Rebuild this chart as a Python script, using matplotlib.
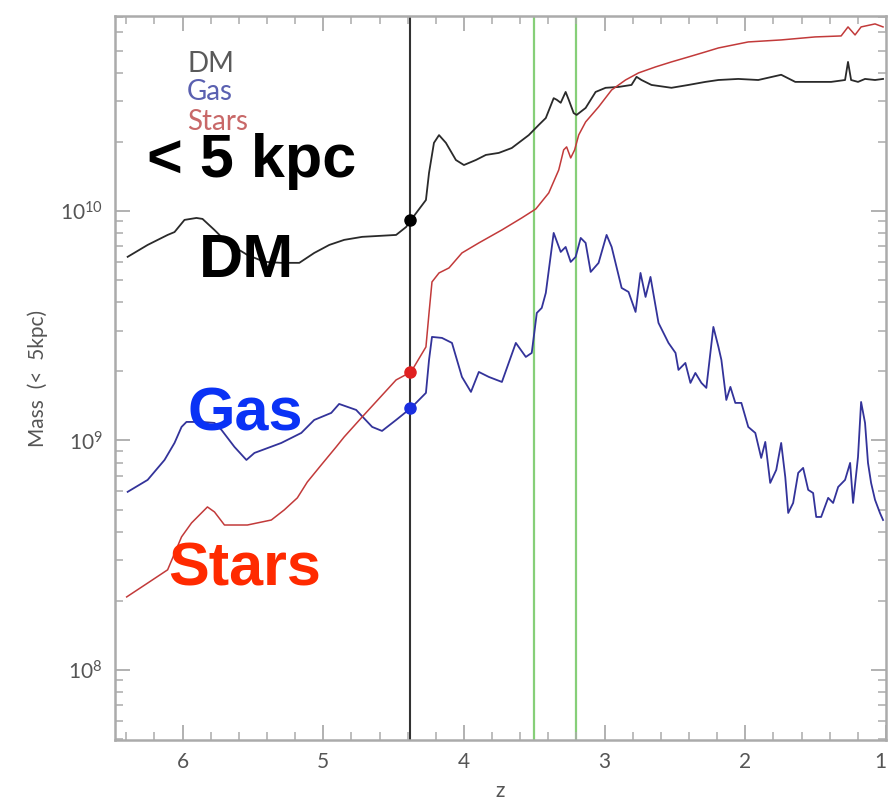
import numpy as np
import matplotlib
matplotlib.use('Agg')
import matplotlib.pyplot as plt
from matplotlib.ticker import LogLocator, MultipleLocator, FixedLocator, NullFormatter, FixedFormatter

plt.rcParams['font.family'] = ['Lato', 'DejaVu Sans']
plt.rcParams['mathtext.fontset'] = 'custom'
plt.rcParams['mathtext.rm'] = 'Lato'
plt.rcParams['mathtext.it'] = 'Lato'
plt.rcParams['mathtext.bf'] = 'Lato:bold'

# ---------------- data (mass in units of 1e9 Msun) ----------------
dm_z = [6.390, 6.248, 6.106, 6.057, 5.986, 5.901, 5.858, 5.773, 5.681, 5.539,
        5.418, 5.298, 5.170, 5.064, 4.957, 4.851, 4.723, 4.482, 4.411, 4.376,
        4.270, 4.248, 4.213, 4.177, 4.128, 4.057, 4.000, 3.915, 3.844, 3.752,
        3.660, 3.539, 3.468, 3.418, 3.362, 3.340, 3.312, 3.277, 3.255, 3.220,
        3.199, 3.135, 3.064, 2.993, 2.901, 2.809, 2.773, 2.738, 2.667, 2.525,
        2.404, 2.284, 2.191, 2.050, 1.908, 1.745, 1.645, 1.532, 1.390, 1.291,
        1.270, 1.248, 1.199, 1.149, 1.078, 1.021]
dm_mass = [6.31, 7.11, 7.86, 8.09, 9.14, 9.32, 9.23, 8.26, 7.26, 6.43,
           6.00, 5.94, 5.94, 6.56, 7.11, 7.48, 7.71, 7.86, 8.51, 9.14,
           11.16, 14.65, 19.8, 21.4, 19.8, 16.67, 15.85, 16.67, 17.54, 17.9,
           18.8, 21.4, 23.7, 25.4, 31.0, 30.5, 29.6, 33.0, 30.5, 26.7,
           26.2, 28.1, 33.0, 34.4, 34.7, 35.4, 38.4, 37.2, 35.4, 34.4,
           35.4, 36.5, 37.2, 37.6, 37.2, 39.2, 36.5, 36.5, 36.5, 37.2,
           44.6, 37.2, 36.5, 37.6, 37.2, 37.6]

stars_z = [6.397, 6.248, 6.106, 6.007, 5.936, 5.823, 5.773, 5.702, 5.539, 5.369,
           5.277, 5.184, 5.113, 5.014, 4.908, 4.851, 4.723, 4.482, 4.376, 4.270,
           4.248, 4.227, 4.177, 4.106, 4.014, 3.894, 3.730, 3.589, 3.489, 3.397,
           3.326, 3.291, 3.270, 3.241, 3.213, 3.184, 3.135, 3.043, 2.950, 2.851,
           2.759, 2.638, 2.525, 2.404, 2.284, 2.191, 1.979, 1.745, 1.504, 1.319,
           1.270, 1.220, 1.177, 1.078, 1.021]
stars_mass = [0.208, 0.239, 0.273, 0.380, 0.437, 0.513, 0.488, 0.428, 0.428, 0.450,
              0.498, 0.562, 0.659, 0.782, 0.937, 1.036, 1.266, 1.835, 1.988, 2.555,
              3.593, 4.905, 5.368, 5.645, 6.561, 7.255, 8.265, 9.322, 10.20, 11.98,
              15.09, 18.45, 19.01, 17.02, 18.45, 21.44, 24.42, 28.39, 33.67, 37.22,
              39.94, 42.42, 44.60, 46.88, 49.30, 51.31, 54.50, 55.61, 57.31, 57.88,
              63.36, 58.47, 63.36, 65.3, 63.36]

gas_z = [6.390, 6.248, 6.128, 6.057, 6.007, 5.972, 5.865, 5.773, 5.723, 5.631,
         5.546, 5.489, 5.298, 5.156, 5.064, 4.943, 4.887, 4.766, 4.652, 4.582,
         4.482, 4.376, 4.270, 4.248, 4.227, 4.156, 4.085, 4.014, 3.950, 3.894,
         3.823, 3.730, 3.631, 3.560, 3.518, 3.482, 3.447, 3.418, 3.362, 3.312,
         3.277, 3.241, 3.206, 3.170, 3.135, 3.099, 3.043, 2.986, 2.950, 2.879,
         2.830, 2.780, 2.745, 2.709, 2.674, 2.617, 2.546, 2.496, 2.475, 2.426,
         2.390, 2.355, 2.312, 2.277, 2.227, 2.191, 2.170, 2.135, 2.106, 2.071,
         2.028, 1.979, 1.929, 1.887, 1.858, 1.823, 1.780, 1.745, 1.716, 1.695,
         1.660, 1.624, 1.589, 1.553, 1.518, 1.496, 1.461, 1.411, 1.376, 1.340,
         1.291, 1.255, 1.234, 1.199, 1.177, 1.149, 1.128, 1.106, 1.078, 1.043,
         1.021]
gas_mass = [0.597, 0.673, 0.822, 0.975, 1.145, 1.204, 1.204, 1.192, 1.111, 0.937,
            0.822, 0.882, 0.975, 1.078, 1.228, 1.318, 1.442, 1.358, 1.145, 1.100,
            1.228, 1.385, 1.611, 2.243, 2.825, 2.797, 2.660, 1.891, 1.627, 1.988,
            1.891, 1.798, 2.660, 2.311, 2.406, 3.593, 3.778, 4.392, 8.020, 6.627,
            6.967, 5.995, 6.303, 7.626, 7.255, 5.423, 5.935, 7.861, 6.967, 4.617,
            4.437, 3.630, 5.368, 4.220, 5.158, 3.251, 2.660, 2.406, 2.029, 2.176,
            1.781, 1.968, 1.781, 1.694, 3.123, 2.555, 2.243, 1.501, 1.711, 1.457,
            1.457, 1.145, 1.078, 0.839, 0.985, 0.653, 0.744, 0.975, 0.693, 0.483,
            0.534, 0.722, 0.759, 0.609, 0.590, 0.464, 0.464, 0.562, 0.534, 0.627,
            0.673, 0.798, 0.534, 0.847, 1.471, 1.192, 0.798, 0.653, 0.551, 0.483,
            0.450]

z_mark = 4.38
mark_mass = [9.14, 1.988, 1.385]   # DM, Stars, Gas
green_z = [3.5, 3.2]

legend_names = ['DM', 'Gas', 'Stars']
x_ticks = [6, 5, 4, 3, 2, 1]
y_ticks = [1e8, 1e9, 1e10]
y_ticklabels = ['$10^{8}$', '$10^{9}$', '$10^{10}$']

# ---------------- figure ----------------
W, H = 888, 800
fig = plt.figure(figsize=(W / 100, H / 100), dpi=100)
ax = fig.add_axes([115 / W, 1 - 740 / H, (886 - 115) / W, (740 - 16) / H])

c_dm, c_gas, c_st = '#2a2a2a', '#33339a', '#c23a3a'
s = 1e9
ax.plot(dm_z, np.array(dm_mass) * s, color=c_dm, lw=1.3)
ax.plot(gas_z, np.array(gas_mass) * s, color=c_gas, lw=1.3)
ax.plot(stars_z, np.array(stars_mass) * s, color=c_st, lw=1.1)

ax.axvline(z_mark, color='#333333', lw=1.5, zorder=1)
for g in green_z:
    ax.axvline(g, color='#86cf78', lw=1.6, zorder=1)

for m, c in zip(mark_mass, ['#000000', '#e02020', '#1a2ee0']):
    ax.plot([z_mark], [m * s], 'o', color=c, ms=8, zorder=5)

ax.set_yscale('log')
ax.set_xlim(6.48, 1.0)
ax.set_ylim(4.95e7, 7.07e10)

ax.xaxis.set_major_locator(FixedLocator(x_ticks))
ax.xaxis.set_minor_locator(MultipleLocator(0.2))
ax.yaxis.set_major_locator(FixedLocator(y_ticks))
ax.yaxis.set_major_formatter(FixedFormatter(y_ticklabels))
ax.yaxis.set_minor_locator(LogLocator(base=10, subs=np.arange(2, 10)))
ax.yaxis.set_minor_formatter(NullFormatter())

gray = '#ababab'
tcol = '#555555'
for sp in ax.spines.values():
    sp.set_color(gray)
    sp.set_linewidth(1.8)
ax.tick_params(which='both', direction='in', top=True, right=True, color=gray,
               labelcolor=tcol)
ax.tick_params(which='major', length=11, width=1.3, labelsize=15, pad=9)
ax.tick_params(which='minor', length=6, width=1.1)
fig.canvas.draw()
xt = ax.get_xticklabels()
xt[-1].set_horizontalalignment('right')

ax.set_xlabel('z', fontsize=15, color=tcol, labelpad=6)
ax.set_ylabel('Mass  (<  5kpc)', fontsize=15, color=tcol, labelpad=8)

# small legend text (top-left)
for name, c, yb in zip(legend_names, ['#5a5a5a', '#5a60b0', '#c86868'], [72, 100, 130]):
    fig.text(187 / W, 1 - yb / H, name, color=c, fontsize=20,
             family='Lato', va='baseline', ha='left')

# big annotations
big = dict(family='Liberation Sans', fontweight='bold', fontsize=44, va='baseline', ha='left')
fig.text(147 / W, 1 - 177 / H, '< 5 kpc', color='black', **big)
fig.text(199 / W, 1 - 277 / H, 'DM', color='black', **big)
fig.text(187 / W, 1 - 431 / H, 'Gas', color='#0a32f5', **big)
fig.text(168 / W, 1 - 586 / H, 'Stars', color='#ff2a00', **big)

fig.savefig('out.png', dpi=100)
